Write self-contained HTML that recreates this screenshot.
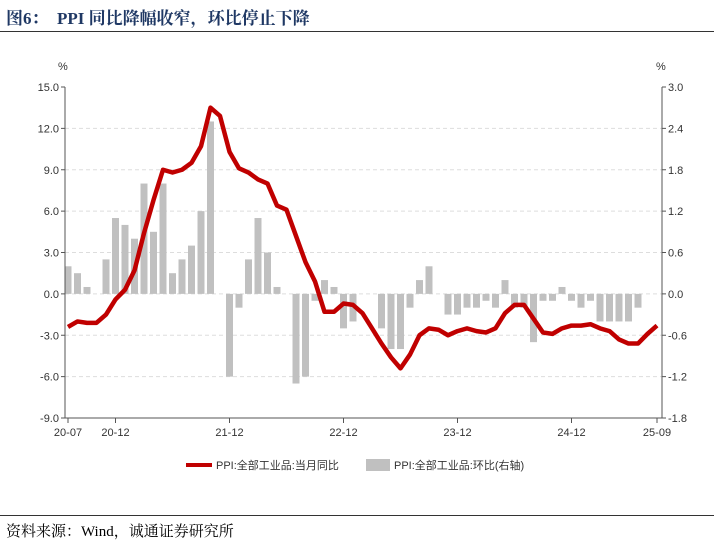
<!DOCTYPE html>
<html><head><meta charset="utf-8"><style>
body{margin:0;width:714px;height:547px;background:#fff;font-family:"Liberation Sans","Noto Sans CJK SC",sans-serif;overflow:hidden}
.title{position:absolute;left:6px;top:4px;font-family:"Liberation Serif","Noto Serif CJK SC",serif;font-weight:bold;font-size:17px;color:#1f3864}
.src{position:absolute;left:6px;top:520px;font-family:"Liberation Serif","Noto Serif CJK SC",serif;font-size:15px;color:#000}
</style></head><body>
<div class="title">图6：&nbsp;&nbsp;PPI 同比降幅收窄，环比停止下降</div>
<div style="position:absolute;left:0;top:31px;width:714px;height:1px;background:#333"></div>
<div style="position:absolute;left:0;top:515px;width:714px;height:1px;background:#333"></div>
<div class="src">资料来源：Wind，诚通证券研究所</div>
<svg id="c" width="714" height="547" style="position:absolute;left:0;top:0"></svg>
<script>
const months=[];for(let y=2020;y<=2025;y++)for(let m=1;m<=12;m++){if((y==2020&&m<7)||(y==2025&&m>9))continue;months.push(String(y).slice(2)+'-'+String(m).padStart(2,'0'));}
const yoy=[-2.4,-2.0,-2.1,-2.1,-1.5,-0.4,
0.3,1.7,4.4,6.8,9.0,8.8,9.0,9.5,10.7,13.5,12.9,10.3,
9.1,8.8,8.3,8.0,6.4,6.1,4.2,2.3,0.9,-1.3,-1.3,-0.7,
-0.8,-1.4,-2.5,-3.6,-4.6,-5.4,-4.4,-3.0,-2.5,-2.6,-3.0,-2.7,
-2.5,-2.7,-2.8,-2.5,-1.4,-0.8,-0.8,-1.8,-2.8,-2.9,-2.5,-2.3,
-2.3,-2.2,-2.5,-2.7,-3.3,-3.6,-3.6,-2.9,-2.3];
const mom=[0.4,0.3,0.1,0.0,0.5,1.1,
1.0,0.8,1.6,0.9,1.6,0.3,0.5,0.7,1.2,2.5,0.0,-1.2,
-0.2,0.5,1.1,0.6,0.1,0.0,-1.3,-1.2,-0.1,0.2,0.1,-0.5,
-0.4,0.0,0.0,-0.5,-0.8,-0.8,-0.2,0.2,0.4,0.0,-0.3,-0.3,
-0.2,-0.2,-0.1,-0.2,0.2,-0.2,-0.2,-0.7,-0.1,-0.1,0.1,-0.1,
-0.2,-0.1,-0.4,-0.4,-0.4,-0.4,-0.2,0.0,0.0];
const leftTicks=[15,12,9,6,3,0,-3,-6,-9];
const rightTicks=[3.0,2.4,1.8,1.2,0.6,0.0,-0.6,-1.2,-1.8];
const xLabels=['20-07','20-12','21-12','22-12','23-12','24-12','25-09'];
const L=65,R=662,T=87,B=418,x0=68,step=(657-68)/(months.length-1);
const yL=v=>T+(15-v)*(B-T)/24, yR=v=>T+(3-v)*(B-T)/4.8, xS=i=>x0+i*step;
const svg=document.getElementById('c');const NS='http://www.w3.org/2000/svg';
function el(t,a,txt){const e=document.createElementNS(NS,t);for(const k in a)e.setAttribute(k,a[k]);if(txt!=null)e.textContent=txt;svg.appendChild(e);return e;}
leftTicks.forEach((v,k)=>{const y=yL(v);
 if(k>0&&k<leftTicks.length-1){const g=el('line',{x1:L,x2:R,y1:y,y2:y,stroke:'#ddd','stroke-dasharray':'4,3'});}
 el('line',{x1:L-4,x2:L,y1:y,y2:y,stroke:'#555'});
 const t=el('text',{x:L-6,y:y+4,'text-anchor':'end','font-size':11,fill:'#333'},v.toFixed(1));});
rightTicks.forEach(v=>{const y=yR(v);el('line',{x1:R,x2:R+4,y1:y,y2:y,stroke:'#555'});
 const t=el('text',{x:R+6,y:y+4,'font-size':11,fill:'#333'},v.toFixed(1));});
mom.forEach((v,i)=>{const y1=yR(Math.max(v,0)),y2=yR(Math.min(v,0));const b=el('rect',{x:xS(i)-3.5,y:y1,width:7,height:Math.max(y2-y1,0),fill:'#c0c0c0'});
 });
const p=el('polyline',{points:yoy.map((v,i)=>xS(i)+','+yL(v)).join(' '),fill:'none',stroke:'#c00000','stroke-width':4.5,'stroke-linejoin':'round'});

el('line',{x1:L,x2:L,y1:T,y2:B,stroke:'#555'});el('line',{x1:R,x2:R,y1:T,y2:B,stroke:'#555'});el('line',{x1:L,x2:R,y1:B,y2:B,stroke:'#555'});
const la=el('text',{x:58,y:70,'font-size':11,fill:'#333'},'%');
const ra=el('text',{x:656,y:70,'font-size':11,fill:'#333'},'%');
xLabels.forEach(s=>{const i=months.indexOf(s);const x=xS(i);el('line',{x1:x,x2:x,y1:B,y2:B+5,stroke:'#555'});
 const t=el('text',{x:x,y:B+18,'text-anchor':'middle','font-size':11,fill:'#333'},s);});
const l1=el('line',{x1:186,x2:212,y1:465,y2:465,stroke:'#c00000','stroke-width':4});
const t1=el('text',{x:216,y:469,'font-size':11,fill:'#333'},'PPI:全部工业品:当月同比');
const l2=el('rect',{x:366,y:459,width:24,height:12,fill:'#c0c0c0'});
const t2=el('text',{x:394,y:469,'font-size':11,fill:'#333'},'PPI:全部工业品:环比(右轴)');
</script></body></html>
